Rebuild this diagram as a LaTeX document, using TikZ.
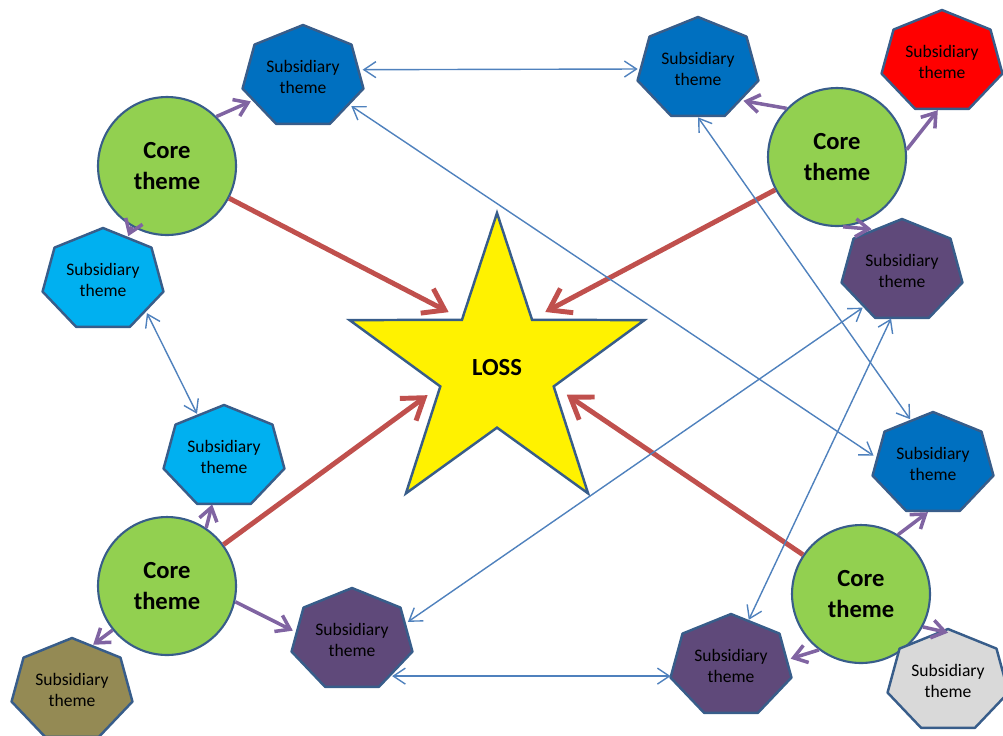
\documentclass[tikz,border=0pt]{standalone}
\usepackage{fontspec}
\setmainfont{Carlito}
\usepackage{tikz}
\usetikzlibrary{shapes.geometric}
\usetikzlibrary{arrows.meta}
\definecolor{edgeblue}{HTML}{385D8A}
\definecolor{linkblue}{HTML}{4F81BD}
\definecolor{lossred}{HTML}{C0504D}
\definecolor{ownpurple}{HTML}{8064A2}
\definecolor{coregreen}{HTML}{92D050}
\definecolor{darkblue}{HTML}{0070C0}
\definecolor{lightblue}{HTML}{00B0F0}
\definecolor{olive}{HTML}{948A54}
\definecolor{plum}{HTML}{5F497A}
\definecolor{paleGrey}{HTML}{D9D9D9}
\tikzset{core/.style = {shape=circle,draw=edgeblue,line width=1.2pt,fill=coregreen,minimum size=2.76cm,inner sep=0pt,align=center,font=\bfseries\fontsize{14}{18}\selectfont}}
\tikzset{subtheme/.style = {shape=ellipse,minimum width=2.4cm,minimum height=1.92cm,inner sep=0pt,align=center,font=\fontsize{10}{11.5}\selectfont}}
\tikzset{hepta/.style = {draw=edgeblue,line width=1.4pt,line join=round}}
\tikzset{loss/.style = {star,star points=5,star point ratio=2.6,minimum size=6.2cm,inner sep=0pt,draw=edgeblue,line width=1.4pt,fill=yellow,font=\bfseries\fontsize{14}{17}\selectfont}}
\tikzset{link/.style = {draw=linkblue,line width=0.8pt,>={Straight Barb[length=2.4mm,width=3.2mm]},<->}}
\tikzset{feeds/.style = {draw=lossred,line width=2.8pt,>={Straight Barb[length=4mm,width=5.5mm]},->,shorten >=0.28cm}}
\tikzset{owns/.style = {draw=ownpurple,line width=2pt,>={Straight Barb[length=2.6mm,width=3.6mm]},->}}
\newcommand{\subtheme}[3]{%
  \draw[hepta,fill=#3,shift={(#2)}] plot[samples at={0,...,6}] ({-90+\x*360/7}:62 and 52) -- cycle;
  \node[subtheme] (#1) at (#2) {Subsidiary\\theme};}

\begin{document}
\begin{tikzpicture}[x=0.02cm,y=-0.02cm]
                    \useasboundingbox (0,0) rectangle (1003,735);

                    \node[loss] (loss) at (497,368) {LOSS};

                    \node[core] (cTL) at (167,166) {Core\\theme};
                    \node[core] (cTR) at (837,157) {Core\\theme};
                    \node[core] (cBL) at (167,586) {Core\\theme};
                    \node[core] (cBR) at (861,594) {Core\\theme};

                    \subtheme{sTL}{303,77}{darkblue}
                    \subtheme{sTR}{698,69}{darkblue}
                    \subtheme{sRed}{942,62}{red}
                    \subtheme{sLeft}{103,280}{lightblue}
                    \subtheme{sPlumTR}{902,271}{plum}
                    \subtheme{sLeftMid}{224,457}{lightblue}
                    \subtheme{sRightMid}{933,464}{darkblue}
                    \subtheme{sOlive}{72,690}{olive}
                    \subtheme{sBotMid}{352,640}{plum}
                    \subtheme{sBotRM}{731,666}{plum}
                    \subtheme{sGrey}{948,681}{paleGrey}

                    \draw[feeds] (cTL) -- (loss.inner point 1);
                    \draw[feeds] (cTR) -- (loss.inner point 5);
                    \draw[feeds] (cBL) -- (loss.inner point 2);
                    \draw[feeds] (cBR) -- (loss.inner point 4);

                    \draw[owns] (cTL.45) -- (sTL.205);
                    \draw[owns] (cTL.240) -- (sLeft.60);
                    \draw[owns] (cTR.136) -- (sTR.-35);
                    \draw[owns] (cTR.6) -- (sRed.-95);
                    \draw[owns] (cTR.-85) -- (sPlumTR.126);
                    \draw[owns] (cBL.56) -- (sLeftMid.256);
                    \draw[owns] (cBL.219) -- (sOlive.65);
                    \draw[owns] (cBL.-13) -- (sBotMid.171);
                    \draw[owns] (cBR.58) -- (sRightMid.264);
                    \draw[owns] (cBR.233) -- (sBotRM.7);
                    \draw[owns] (cBR.-28) -- (sGrey.90);

                    \draw[link] (sTL.7) -- (sTR.west);
                    \draw[link] (sLeft.-37) -- (sLeftMid.122);
                    \draw[link] (sBotMid.-42) -- (sBotMid.-42 -| sBotRM.west);
                    \draw[link] (sTL.-31) -- (sRightMid.172);
                    \draw[link] (sTR.south) -- (sRightMid.117);
                    \draw[link] (sPlumTR.223) -- (sBotMid.18);
                    \draw[link] (sPlumTR.257) -- (sBotRM.69);
                \end{tikzpicture}
\end{document}
